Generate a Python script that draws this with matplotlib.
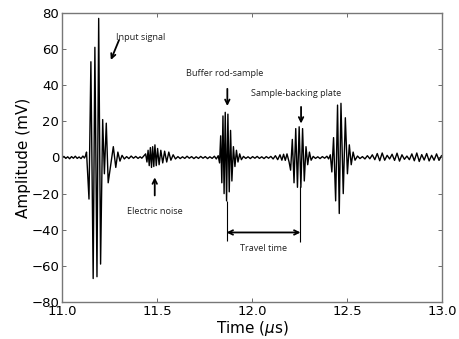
import matplotlib
matplotlib.use("Agg")
import matplotlib.pyplot as plt
import numpy as np

# ---- waveform extrema (time in us, amplitude in mV) ----
base1_t = [11.000, 11.010, 11.020, 11.030, 11.040, 11.050, 11.060, 11.070, 11.080, 11.090, 11.100, 11.110, 11.118, 11.124]
base1_v = [0.0, 0.6, -0.5, 0.4, -0.7, 0.5, -0.4, 0.7, -0.5, 0.3, -0.6, 0.8, -0.3, 1.0]

input_t = [11.129, 11.142, 11.152, 11.164, 11.173, 11.184, 11.193, 11.203, 11.214, 11.223, 11.233, 11.243, 11.270, 11.283, 11.294, 11.305, 11.316]
input_v = [3.0, -23, 53, -67, 61, -66, 77, -59, 21, -9, 19, -14, 6, -5.5, 3, -2, 1.2]

base2_t = [11.328, 11.340, 11.352, 11.364, 11.376, 11.388, 11.400, 11.411]
base2_v = [-0.8, 0.5, -0.6, 0.8, -0.4, 0.6, -0.5, 0.4]

elec_t = [11.420, 11.430, 11.440, 11.447, 11.453, 11.459, 11.465, 11.471, 11.477, 11.483, 11.489, 11.496,
          11.503, 11.511, 11.520, 11.530, 11.540, 11.551, 11.562, 11.573, 11.585, 11.597]
elec_v = [-0.4, 0.8, 2.0, -2.5, 4.0, -4.5, 5.5, -5.5, 6.0, -5.0, 7.0, -4.5,
          5.0, -4.0, 4.0, -3.0, 3.5, -2.5, 3.0, -1.5, 1.5, -0.8]

base3_t = [11.610, 11.622, 11.634, 11.646, 11.658, 11.670, 11.682, 11.694, 11.706, 11.718, 11.730,
           11.742, 11.754, 11.766, 11.778, 11.790, 11.802, 11.812]
base3_v = [0.5, -0.6, 0.4, -0.5, 0.7, -0.4, 0.5, -0.6, 0.4, -0.5, 0.6, -0.4, 0.5, -0.6, 0.4, -0.5, 0.7, -0.8]

buf_t = [11.822, 11.829, 11.835, 11.841, 11.847, 11.853, 11.859, 11.866, 11.873, 11.880, 11.887,
         11.894, 11.902, 11.910, 11.918, 11.926, 11.935, 11.944]
buf_v = [1.0, -3, 12, -14, 23, -20, 25, -24, 24, -19, 15, -13, 6, -5, 4, -2.5, 2, -1.2]

base4_t = [11.955, 11.967, 11.979, 11.991, 12.003, 12.015, 12.027, 12.039, 12.051, 12.063, 12.075,
           12.087, 12.099, 12.111, 12.123, 12.135, 12.147, 12.157, 12.166, 12.175, 12.184]
base4_v = [0.6, -0.5, 0.4, -0.6, 0.5, -0.4, 0.6, -0.5, 0.4, -0.6, 0.5, -0.4, 0.6, -0.8, 1.0,
           -1.2, 1.5, -1.5, 1.8, -1.6, 2.0]

samp_t = [12.195, 12.203, 12.212, 12.221, 12.230, 12.239, 12.248, 12.257, 12.266, 12.275, 12.284, 12.293, 12.302, 12.311]
samp_v = [-2.5, -7, 10, -14, 16, -16.5, 17, -16.5, 16, -13, 6, -4, 3, -1.5]

base5_t = [12.322, 12.334, 12.346, 12.358, 12.370, 12.382, 12.394, 12.403]
base5_v = [0.6, -0.5, 0.4, -0.6, 0.5, -0.4, 0.7, -0.8]

third_t = [12.412, 12.420, 12.429, 12.440, 12.450, 12.459, 12.468, 12.480, 12.491, 12.502, 12.512, 12.522, 12.532, 12.542]
third_v = [1.5, -8, 11, -24, 29, -31, 30, -20, 22, -9, 7, -4, 3, -1.5]

tail_t = [12.555, 12.568, 12.581, 12.594, 12.607, 12.620, 12.633, 12.646, 12.659, 12.672, 12.685, 12.698,
          12.711, 12.724, 12.737, 12.750, 12.763, 12.776, 12.789, 12.802, 12.815, 12.828, 12.841, 12.854,
          12.867, 12.880, 12.893, 12.906, 12.919, 12.932, 12.945, 12.958, 12.971, 12.984, 12.997]
tail_v = [0.8, -0.6, 0.5, -0.8, 1.0, -0.7, 1.5, -1.2, 2.2, -1.8, 2.5, -1.5, 1.2, -0.8, 1.8, -1.6,
          2.4, -2.0, 1.5, -1.0, 0.8, -1.2, 2.0, -1.8, 2.5, -2.2, 1.6, -1.4, 2.2, -1.9, 1.2, -1.5,
          2.0, -1.6, 1.0]

x_ticks = [11.0, 11.5, 12.0, 12.5, 13.0]
y_ticks = [-80, -60, -40, -20, 0, 20, 40, 60, 80]

t = np.concatenate([base1_t, input_t, base2_t, elec_t, base3_t, buf_t, base4_t, samp_t, base5_t, third_t, tail_t])
v = np.concatenate([base1_v, input_v, base2_v, elec_v, base3_v, buf_v, base4_v, samp_v, base5_v, third_v, tail_v])

fig = plt.figure(figsize=(4.6, 3.39), dpi=100)
ax = fig.add_axes([0.1348, 0.1091, 0.961 - 0.1348, 0.9617 - 0.1091])
ax.plot(t, v, color="black", lw=1.0)

ax.set_xlim(11.0, 13.0)
ax.set_ylim(-80, 80)
ax.set_xticks(x_ticks)
ax.set_yticks(y_ticks)
ax.tick_params(direction="in", length=3, width=0.6, top=True, right=True, labelsize=9.5, pad=2,
               colors="#555555", labelcolor="black")
for s in ax.spines.values():
    s.set_color("#777777")
    s.set_linewidth(1.0)

ax.set_xlabel(r"Time ($\mu$s)", fontsize=11, labelpad=1)
ax.set_ylabel("Amplitude (mV)", fontsize=11, labelpad=0)

afont = dict(family="Open Sans", fontsize=6.6, color="#222222")
arrow = dict(arrowstyle="->", lw=1.3, color="black", shrinkA=0, shrinkB=0, mutation_scale=8)

ax.text(11.285, 66.5, "Input signal", ha="left", va="center", **afont)
ax.annotate("", xy=(11.257, 54), xytext=(11.300, 65), arrowprops=arrow)

ax.text(11.650, 46.7, "Buffer rod-sample", ha="left", va="center", **afont)
ax.annotate("", xy=(11.870, 28.5), xytext=(11.870, 38), arrowprops=arrow)

ax.text(11.996, 35.6, "Sample-backing plate", ha="left", va="center", **afont)
ax.annotate("", xy=(12.258, 18.8), xytext=(12.258, 28), arrowprops=arrow)

ax.text(11.488, -30, "Electric noise", ha="center", va="center", **afont)
ax.annotate("", xy=(11.488, -11), xytext=(11.488, -21), arrowprops=arrow)

ax.text(12.06, -50.5, "Travel time", ha="center", va="center", **afont)
ax.vlines([11.866], -24, -46.5, color="black", lw=0.8)
ax.vlines([12.255], -16, -47, color="black", lw=0.8)
ax.annotate("", xy=(11.866, -41.5), xytext=(12.255, -41.5),
            arrowprops=dict(arrowstyle="<->", lw=1.3, color="black", shrinkA=0, shrinkB=0, mutation_scale=8))

fig.savefig("out.png", dpi=100)
